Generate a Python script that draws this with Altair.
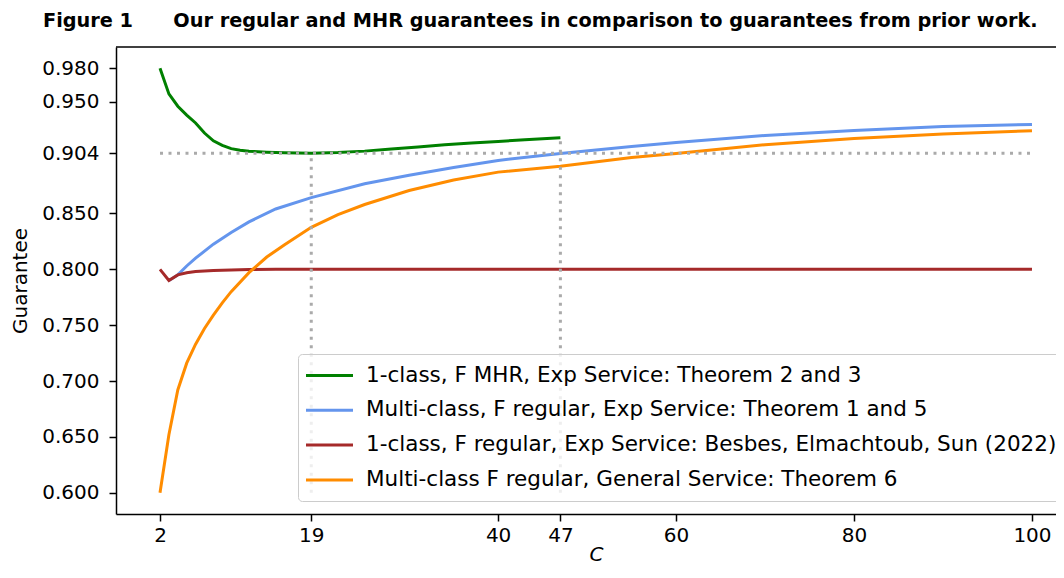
import altair as alt
import pandas as pd

# ---- data ----
series_labels = [
    "1-class, F MHR, Exp Service: Theorem 2 and 3",
    "Multi-class, F regular, Exp Service: Theorem 1 and 5",
    "1-class, F regular, Exp Service: Besbes, Elmachtoub, Sun (2022)",
    "Multi-class F regular, General Service: Theorem 6",
]
series_colors = ["#008000", "#6495ED", "#A52A2A", "#FF8C00"]

green_x = [2, 3, 4, 5, 6, 7, 8, 9, 10, 11, 12, 14, 16, 19, 22, 25, 28, 31, 34, 37, 40, 43, 47]
green_y = [0.980, 0.957, 0.946, 0.938, 0.931, 0.922, 0.915, 0.911, 0.908, 0.9066, 0.9057,
           0.9049, 0.9044, 0.9040, 0.9046, 0.9058, 0.9078, 0.9096, 0.9114, 0.9130, 0.9145,
           0.9160, 0.9177]

blue_x = [3, 4, 5, 6, 8, 10, 12, 15, 19, 25, 30, 35, 40, 47, 55, 60, 70, 80, 90, 100]
blue_y = [0.790, 0.795, 0.803, 0.810, 0.8225, 0.833, 0.8425, 0.854, 0.8642, 0.8766, 0.8842,
          0.8912, 0.8975, 0.9037, 0.9100, 0.9136, 0.9198, 0.9242, 0.9279, 0.9297]

red_x = [2, 3, 4, 5, 6, 7, 8, 10, 12, 15, 20, 30, 50, 100]
red_y = [0.800, 0.790, 0.795, 0.797, 0.798, 0.7985, 0.799, 0.7995, 0.7998, 0.800, 0.800,
         0.800, 0.800, 0.800]

orange_x = [2, 3, 4, 5, 6, 7, 8, 9, 10, 12, 14, 16, 19, 22, 25, 30, 35, 40, 47, 55, 60, 70, 80, 90, 100]
orange_y = [0.600, 0.652, 0.692, 0.716, 0.733, 0.747, 0.759, 0.770, 0.780, 0.797, 0.811,
            0.822, 0.8376, 0.849, 0.858, 0.8705, 0.880, 0.887, 0.8922, 0.900, 0.9037,
            0.9116, 0.9172, 0.9212, 0.9240]

# dotted reference lines: (x start, x end, y start, y end)
ref_x1 = [2, 19, 47]
ref_x2 = [100, 19, 47]
ref_y1 = [0.904, 0.600, 0.600]
ref_y2 = [0.904, 0.904, 0.9177]

x_ticks = [2, 19, 40, 47, 60, 80, 100]
y_ticks = [0.600, 0.650, 0.700, 0.750, 0.800, 0.850, 0.904, 0.950, 0.980]

title_text = ("Figure 1" + "\u00a0" * 6 +
              "Our regular and MHR guarantees in comparison to guarantees from prior work.")

# ---- build tables ----
rows = []
for lab, xs, ys in zip(series_labels,
                       [green_x, blue_x, red_x, orange_x],
                       [green_y, blue_y, red_y, orange_y]):
    for i, (x, y) in enumerate(zip(xs, ys)):
        rows.append({"series": lab, "C": x, "G": y, "ord": i})
df = pd.DataFrame(rows)

ref_df = pd.DataFrame({"C": ref_x1, "C2": ref_x2, "G": ref_y1, "G2": ref_y2})

FONT = "DejaVu Sans"
W, H = 940, 467

x_enc = alt.X(
    "C:Q",
    scale=alt.Scale(domain=[-2.945, 102.7], nice=False, zero=False),
    axis=alt.Axis(values=x_ticks, format="d", title="C", titleFontStyle="italic",
                  labelPadding=4, titlePadding=-1, titleX=480),
)
y_enc = alt.Y(
    "G:Q",
    scale=alt.Scale(domain=[0.581, 0.999], nice=False, zero=False),
    axis=alt.Axis(values=y_ticks, format=".3f", title="Guarantee",
                  labelPadding=10, titlePadding=11),
)

lines = alt.Chart(df).mark_line(strokeWidth=3).encode(
    x=x_enc,
    y=y_enc,
    order="ord:Q",
    color=alt.Color(
        "series:N",
        scale=alt.Scale(domain=series_labels, range=series_colors),
        legend=alt.Legend(
            orient="none", legendX=182, legendY=307, title=None,
            symbolType="M-2.35,0H2.35", symbolSize=400, symbolStrokeWidth=3,
            labelFontSize=21.5, labelFont=FONT, labelColor="black", labelLimit=2000,
            padding=10, rowPadding=12.8, symbolOffset=10, labelOffset=25,
            strokeColor="#cccccc", fillColor="rgba(255,255,255,0.8)", cornerRadius=4,
        ),
    ),
)

rules = alt.Chart(ref_df).mark_rule(
    color="#aaaaaa", strokeWidth=3, strokeDash=[3, 5.5]
).encode(
    x=alt.X("C:Q"), x2="C2:Q", y=alt.Y("G:Q"), y2="G2:Q"
)

# top spine of the frame (the right side is cut off in the original)
top_spine = alt.Chart(pd.DataFrame({"k": [0]})).mark_rule(
    color="black", strokeWidth=1.5
).encode(x=alt.value(0), x2=alt.value(W), y=alt.value(0))

chart = alt.layer(lines, rules, top_spine).properties(
    width=W,
    height=H,
    padding={"left": 108, "top": 39, "right": 0, "bottom": 52},
    autosize=alt.AutoSizeParams(type="none"),
    title=alt.TitleParams(
        text=title_text, anchor="start", frame="group", dx=-73,
        fontSize=19.3, fontWeight="bold", font=FONT, color="black",
        baseline="alphabetic", offset=0,
    ),
).configure_view(
    stroke=None
).configure_axis(
    grid=False, domain=True, domainColor="black", domainWidth=1.5,
    tickColor="black", tickWidth=1.5, tickSize=7,
    labelFont=FONT, labelFontSize=20, labelColor="black",
    titleFont=FONT, titleFontSize=20, titleFontWeight="normal", titleColor="black",
)

chart.save("out.html", embed_options={"renderer": "svg", "actions": False})
